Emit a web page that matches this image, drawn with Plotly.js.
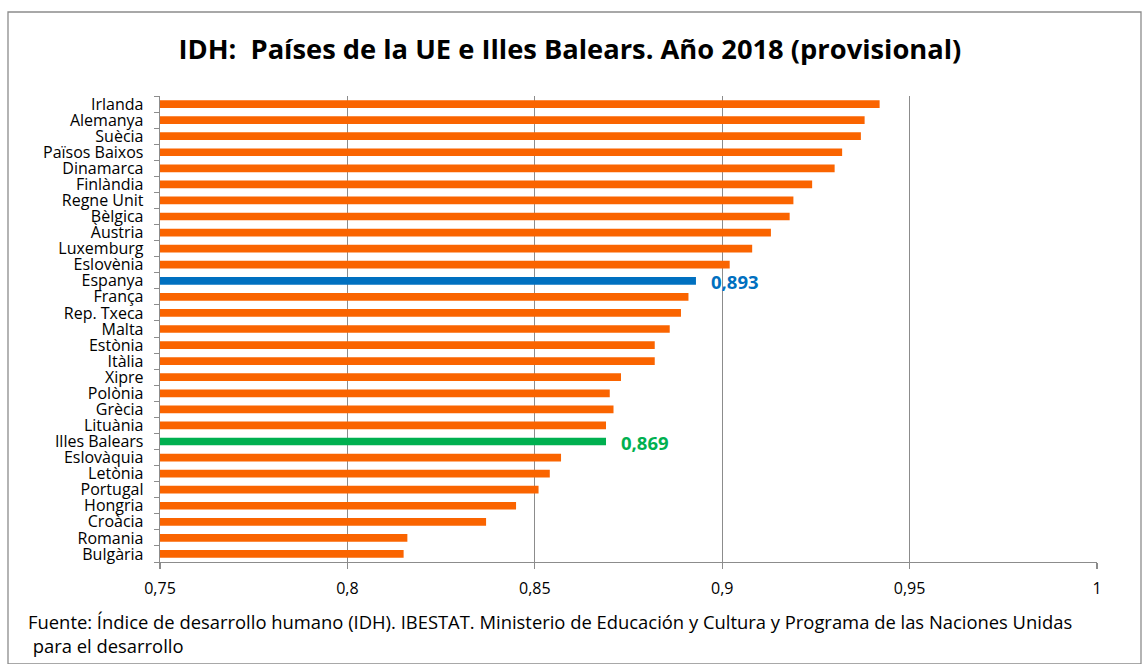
<!DOCTYPE html>
<html>
<head>
<meta charset="utf-8">
<script src="https://cdn.plot.ly/plotly-3.0.1.min.js"></script>
<style>
html,body{margin:0;padding:0;background:#fff;}
#chart{width:1142px;height:664px;}
</style>
</head>
<body>
<div id="chart"></div>
<script>
const countries = ["Irlanda","Alemanya","Suècia","Països Baixos","Dinamarca","Finlàndia","Regne Unit","Bèlgica","Àustria","Luxemburg","Eslovènia","Espanya","França","Rep. Txeca","Malta","Estònia","Itàlia","Xipre","Polònia","Grècia","Lituània","Illes Balears","Eslovàquia","Letònia","Portugal","Hongria","Croàcia","Romania","Bulgària"];
const idh = [0.942,0.938,0.937,0.932,0.930,0.924,0.919,0.918,0.913,0.908,0.902,0.893,0.891,0.889,0.886,0.882,0.882,0.873,0.870,0.871,0.869,0.869,0.857,0.854,0.851,0.845,0.837,0.816,0.815];
const highlight = {"Espanya":"#0070C0","Illes Balears":"#00B050"};
const baseColor = "#FA6400";
const xTicks = [0.75,0.8,0.85,0.9,0.95,1];
const titleText = "IDH:  Países de la UE e Illes Balears. Año 2018 (provisional)";
const sourceText = "Fuente: Índice de desarrollo humano (IDH). IBESTAT. Ministerio de Educación y Cultura y Programa de las Naciones Unidas<br> para el desarrollo";

const colors = countries.map(c => highlight[c] || baseColor);
const font = "'Open Sans', sans-serif";

const annotations = countries.filter(c => highlight[c]).map(c => {
  const v = idh[countries.indexOf(c)];
  return {x: v, y: c, xref:'x', yref:'y', text: '<b>' + v.toFixed(3).replace('.', ',') + '</b>',
    showarrow:false, xanchor:'left', yanchor:'middle', xshift:13, yshift:-1,
    font:{family:font, size:18.5, color:highlight[c]}};
});

const W=1142,H=664,L=160,R=45,T=96,B=102;
const pw=W-L-R, ph=H-T-B;
const px = v => (v-L)/pw, py = v => (H-B-v)/ph;

annotations.push({xref:'paper', yref:'paper', x:px(26), y:py(607), xanchor:'left', yanchor:'top', align:'left',
  text: sourceText, showarrow:false, font:{family:font, size:18.4, color:'#000'}});

const layout = {
  width:W, height:H,
  margin:{l:L, r:R, t:T, b:B, pad:0},
  paper_bgcolor:'#fff', plot_bgcolor:'#fff',
  separators: ',.',
  showlegend:false,
  bargap:0.52,
  title:{text:'<b>'+titleText+'</b>', x:0.499, xanchor:'center', y:1-49/H, yanchor:'middle',
    font:{family:font, size:27.3, color:'#000'}},
  xaxis:{range:[0.75,1], tickvals:xTicks, showgrid:true, gridcolor:'#8c8c8c', gridwidth:1.3,
    zeroline:false, showline:true, linecolor:'#8c8c8c', linewidth:1.3,
    ticks:'outside', ticklen:6, tickcolor:'#8c8c8c', tickwidth:1.3,
    tickfont:{family:font, size:16, color:'#000'}, ticklabelstandoff:5, fixedrange:true},
  yaxis:{type:'category', autorange:'reversed', tickmode:'array', tickvals:countries, ticktext:countries,
    showline:true, linecolor:'#8c8c8c', linewidth:1.3,
    ticks:'outside', tickson:'boundaries', ticklen:5, tickcolor:'#8c8c8c', tickwidth:1,
    showgrid:false, tickfont:{family:font, size:16, color:'#000'}, ticklabelstandoff:12, fixedrange:true},
  annotations: annotations,
  shapes:[{type:'rect', xref:'paper', yref:'paper', x0:px(8), x1:px(1141), y0:py(664), y1:py(12),
    line:{color:'#8c8c8c', width:1.3}, fillcolor:'rgba(0,0,0,0)', layer:'below'}]
};

Plotly.newPlot('chart', [{
  type:'bar', orientation:'h', y:countries, x:idh, base:0,
  marker:{color:colors, line:{width:0}}, hoverinfo:'x+y', cliponaxis:true
}], layout, {displayModeBar:false, staticPlot:true});
</script>
</body>
</html>
